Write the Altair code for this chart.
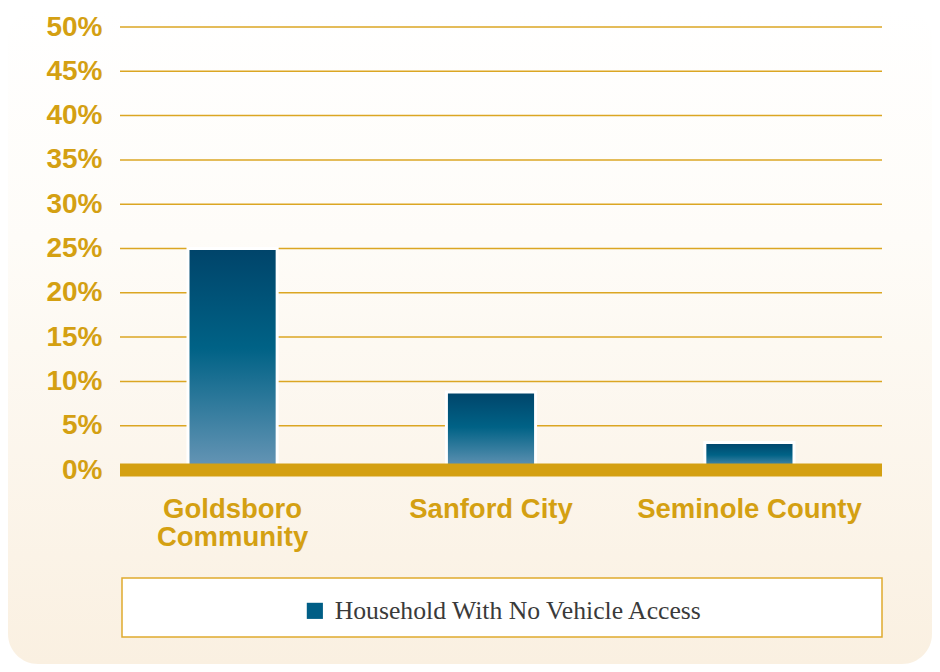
import altair as alt
import pandas as pd

categories = ["Goldsboro Community", "Sanford City", "Seminole County"]
values = [0.250, 0.088, 0.031]
series_name = "Household With No Vehicle Access"
y_ticks = [0.0, 0.05, 0.10, 0.15, 0.20, 0.25, 0.30, 0.35, 0.40, 0.45, 0.50]

GOLD = "#d4a012"
GRID = "#dba623"

df = pd.DataFrame({"cat": categories, "val": values, "series": [series_name] * len(categories)})
grid_df = pd.DataFrame({"t": y_ticks})

W, H = 762, 443

x_enc = alt.X(
    "cat:N",
    sort=categories,
    scale=alt.Scale(range=[68, 674], paddingInner=0.655, paddingOuter=0),
    axis=alt.Axis(
        title=None, labelAngle=0, domain=False, ticks=False, grid=False, zindex=2,
        labelFont="Liberation Sans", labelFontWeight="bold", labelFontSize=27.5,
        labelColor=GOLD, labelPadding=25, labelLineHeight=28, labelLimit=400,
        labelExpr="datum.value == 'Goldsboro Community' ? ['Goldsboro', 'Community'] : datum.value",
    ),
)
y_scale = alt.Scale(domain=[0, 0.5], nice=False, zero=True)
y_enc = alt.Y(
    "val:Q", scale=y_scale,
    axis=alt.Axis(
        title=None, values=y_ticks, format=".0%", domain=False, ticks=False, grid=False, zindex=2,
        labelFont="Liberation Sans", labelFontWeight="bold", labelFontSize=28,
        labelColor=GOLD, labelPadding=18,
    ),
)

bg = alt.Chart(alt.Data(values=[{}])).mark_rect(
    cornerRadius=30,
    fill=alt.LinearGradient(
        gradient="linear", x1=0, x2=0, y1=0, y2=1,
        stops=[alt.GradientStop(color="#ffffff", offset=0),
               alt.GradientStop(color="#fefcf8", offset=0.35),
               alt.GradientStop(color="#faf0e1", offset=1)],
    ),
).encode(x=alt.value(-112), x2=alt.value(812), y=alt.value(-19), y2=alt.value(637))

grid = alt.Chart(grid_df).mark_rule(color=GRID, strokeWidth=1.5).encode(
    y=alt.Y("t:Q", scale=y_scale), x=alt.value(0), x2=alt.value(W)
)

legend_box = alt.Chart(alt.Data(values=[{}])).mark_rect(
    fill="#ffffff", stroke="#e0aa2e", strokeWidth=1.5
).encode(x=alt.value(2), x2=alt.value(762), y=alt.value(551), y2=alt.value(610))

bars_legend = alt.Chart(df).mark_bar().encode(
    x=x_enc, y=y_enc,
    color=alt.Color(
        "series:N",
        scale=alt.Scale(range=["#005e86"]),
        legend=alt.Legend(
            title=None, orient="none", legendX=182, legendY=571, zindex=2,
            symbolType="square", symbolSize=260, symbolStrokeWidth=0, symbolOpacity=1,
            labelFont="Liberation Serif", labelFontSize=25.7, labelColor="#3a3a3a",
            labelOffset=7, padding=0, labelLimit=600,
        ),
    ),
)

bars = alt.Chart(df).mark_bar(
    stroke="#ffffff", strokeWidth=3,
    fill=alt.LinearGradient(
        gradient="linear", x1=0, x2=0, y1=0, y2=1,
        stops=[alt.GradientStop(color="#00446a", offset=0),
               alt.GradientStop(color="#006286", offset=0.45),
               alt.GradientStop(color="#6896b6", offset=1)],
    ),
).encode(x=alt.X("cat:N", sort=categories), y=alt.Y("val:Q", scale=y_scale))

baseline = alt.Chart(alt.Data(values=[{"z": 0}])).mark_rule(
    color=GOLD, strokeWidth=13, strokeCap="butt"
).encode(y=alt.Y("z:Q", scale=y_scale), x=alt.value(0), x2=alt.value(W))

chart = alt.layer(bg, grid, legend_box, bars_legend, bars, baseline).properties(
    width=W, height=H,
    autosize=alt.AutoSizeParams(type="none"),
    padding={"left": 112, "top": 19, "right": 50, "bottom": 194},
).configure_view(stroke=None).configure(background="#ffffff")

chart.save("out.html", embed_options={"renderer": "svg", "actions": False})
